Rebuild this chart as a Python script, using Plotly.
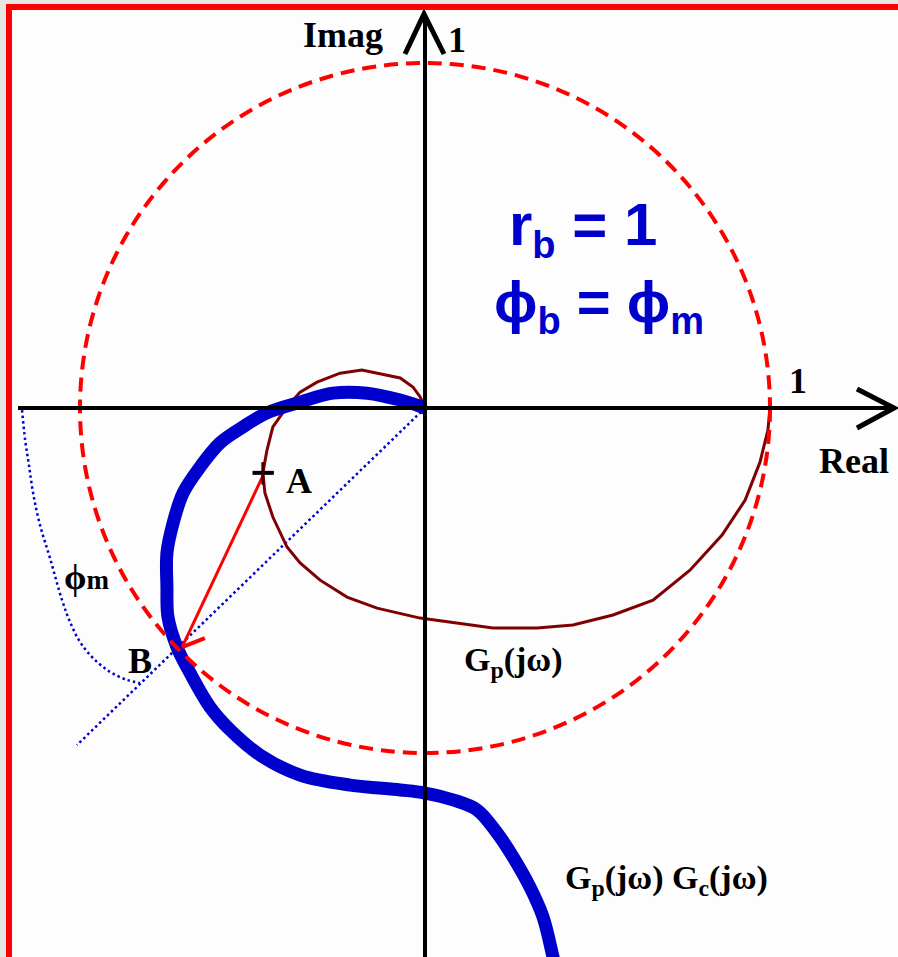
import plotly.graph_objects as go

# ---- data (complex-plane units; unit circle radius = 1) ----
gp_re = [1.000, 0.994, 0.971, 0.928, 0.861, 0.768, 0.661, 0.545, 0.429, 0.325, 0.197, 0.081,
         -0.014, -0.139, -0.226, -0.304, -0.362, -0.400, -0.441, -0.464, -0.470, -0.458, -0.441,
         -0.400, -0.362, -0.313, -0.246, -0.183, -0.110, -0.072, -0.035, -0.014, 0.000]
gp_im = [0.000, -0.064, -0.157, -0.267, -0.368, -0.470, -0.557, -0.600, -0.629, -0.638, -0.638, -0.623,
         -0.609, -0.580, -0.548, -0.499, -0.449, -0.403, -0.316, -0.246, -0.188, -0.122, -0.055,
         0.003, 0.046, 0.075, 0.101, 0.110, 0.096, 0.087, 0.061, 0.032, 0.000]

gpgc_re = [0.000, -0.072, -0.168, -0.267, -0.362, -0.458, -0.528, -0.594, -0.652, -0.701, -0.730,
           -0.748, -0.748, -0.745, -0.719, -0.681, -0.623, -0.565, -0.478, -0.362, -0.217, -0.072,
           0.000, 0.081, 0.151, 0.209, 0.255, 0.304, 0.342, 0.371, 0.380]
gpgc_im = [0.000, 0.023, 0.043, 0.043, 0.017, -0.014, -0.055, -0.101, -0.171, -0.246, -0.333,
           -0.420, -0.519, -0.606, -0.693, -0.768, -0.867, -0.933, -1.006, -1.064, -1.093, -1.107,
           -1.116, -1.136, -1.165, -1.232, -1.301, -1.388, -1.475, -1.591, -1.629]

arc_re = [-1.168, -1.159, -1.148, -1.136, -1.116, -1.087, -1.052, -1.029, -1.000, -0.962, -0.913, -0.864, -0.826]
arc_im = [-0.006, -0.093, -0.165, -0.246, -0.339, -0.435, -0.557, -0.620, -0.678, -0.725, -0.765, -0.788, -0.797]

pm_line_re = [0.000, -1.009]
pm_line_im = [0.000, -0.977]

point_A = (-0.470, -0.197)
point_B = (-0.704, -0.693)
B_tick_end = (-0.638, -0.667)

circle_radius = 1.0

# ---- pixel helper for label placement (origin at pixel 425,408; 345 px per unit) ----
S, OX, OY, W, H = 345.0, 425.0, 408.0, 898, 957
def px(x):
    return (x - OX) / S
def py(y):
    return (OY - y) / S

fig = go.Figure()

RED = "#ff0000"
BLUE = "#0000cc"
MAROON = "#7f0000"
SERIF = "Liberation Serif, Times New Roman, serif"
SANS = "Liberation Sans, Arial, sans-serif"

# unit circle (dashed red)
fig.add_shape(type="circle", xref="x", yref="y", x0=-circle_radius, y0=-circle_radius,
              x1=circle_radius, y1=circle_radius,
              line=dict(color=RED, width=4, dash="14px,8px"), layer="above")

# phase-margin construction (dotted blue)
fig.add_trace(go.Scatter(x=arc_re, y=arc_im, mode="lines", line=dict(color=BLUE, width=2.5, dash="2.5px,3px", shape="spline"), hoverinfo="skip"))
fig.add_trace(go.Scatter(x=pm_line_re, y=pm_line_im, mode="lines", line=dict(color=BLUE, width=2.5, dash="2.5px,3px"), hoverinfo="skip"))

# Gp curve
fig.add_trace(go.Scatter(x=gp_re, y=gp_im, mode="lines", line=dict(color=MAROON, width=3), hoverinfo="skip"))
# Gp Gc curve
fig.add_trace(go.Scatter(x=gpgc_re, y=gpgc_im, mode="lines", line=dict(color=BLUE, width=13, shape="spline"), hoverinfo="skip"))

# A -> B red line and tick at B
fig.add_trace(go.Scatter(x=[point_A[0], point_B[0]], y=[point_A[1], point_B[1]], mode="lines", line=dict(color=RED, width=3), hoverinfo="skip"))
fig.add_trace(go.Scatter(x=[point_B[0], B_tick_end[0]], y=[point_B[1], B_tick_end[1]], mode="lines", line=dict(color=RED, width=4), hoverinfo="skip"))

# cross mark at A
fig.add_shape(type="line", xref="x", yref="y", x0=point_A[0] - 0.03, x1=point_A[0] + 0.032, y0=point_A[1] + 0.009, y1=point_A[1] + 0.009,
              line=dict(color="black", width=4), layer="above")
fig.add_shape(type="line", xref="x", yref="y", x0=point_A[0], x1=point_A[0], y0=point_A[1] + 0.04, y1=point_A[1] - 0.025,
              line=dict(color="#3a0000", width=3), layer="above")

# axes with arrowheads
ax = dict(color="black", width=4)
fig.add_shape(type="line", x0=px(18), x1=px(893), y0=0, y1=0, line=ax, layer="above")
fig.add_shape(type="line", x0=0, x1=0, y0=py(970), y1=py(15), line=ax, layer="above")
fig.add_shape(type="path", path=f"M {px(857)},{py(389)} L {px(894)},{py(408)} L {px(857)},{py(428)}", line=dict(color="black", width=5), layer="above")
fig.add_shape(type="path", path=f"M {px(405)},{py(54)} L {px(424)},{py(14)} L {px(444)},{py(54)}", line=dict(color="black", width=5), layer="above")

# page frame: gray outside, white inside, red border (left and top)
fig.add_shape(type="rect", xref="paper", yref="paper", x0=9 / W, x1=1, y0=0, y1=1 - 7 / H,
              fillcolor="#fdfdfd", line=dict(width=0), layer="below")
fig.add_shape(type="line", xref="paper", yref="paper", x0=9 / W, x1=9 / W, y0=0, y1=1 - 4 / H,
              line=dict(color=RED, width=6), layer="above")
fig.add_shape(type="line", xref="paper", yref="paper", x0=6 / W, x1=1, y0=1 - 7 / H, y1=1 - 7 / H,
              line=dict(color=RED, width=6), layer="above")

def label(text, x, y, size, family=SERIF, color="black", xanchor="center"):
    fig.add_annotation(x=px(x), y=py(y), text=text, showarrow=False, xanchor=xanchor, yanchor="middle",
                       font=dict(family=family, size=size, color=color, weight="bold"))

label("Imag", 343, 35, 36)
label("1", 457, 40, 36)
label("1", 798, 381, 36)
label("Real", 854, 461, 36)
label("A", 299, 481, 36)
label("B", 140, 661, 36)
label("ϕ<span style='font-size:27px'>m</span>", 62, 577, 36, xanchor="left")
label("G<sub>p</sub>(jω)", 462, 662, 34, xanchor="left")
label("G<sub>p</sub>(jω) G<sub>c</sub>(jω)", 563, 880, 34, xanchor="left")
label("r<sub><span style='font-size:38px'>b</span></sub> = 1", 507, 228, 60, family=SANS, color=BLUE, xanchor="left")
label("ϕ<sub><span style='font-size:38px'>b</span></sub> = ϕ<sub><span style='font-size:38px'>m</span></sub>", 492, 305, 58, family=SANS, color=BLUE, xanchor="left")

fig.update_layout(
    width=W, height=H, margin=dict(l=0, r=0, t=0, b=0),
    paper_bgcolor="#e6e6e6", plot_bgcolor="rgba(0,0,0,0)",
    showlegend=False,
    xaxis=dict(range=[px(0), px(W)], visible=False, fixedrange=True),
    yaxis=dict(range=[py(H), py(0)], visible=False, fixedrange=True),
)

fig.write_html("out.html", config={"displayModeBar": False},
               post_script="document.body.style.margin='0';document.body.style.overflow='hidden';")
